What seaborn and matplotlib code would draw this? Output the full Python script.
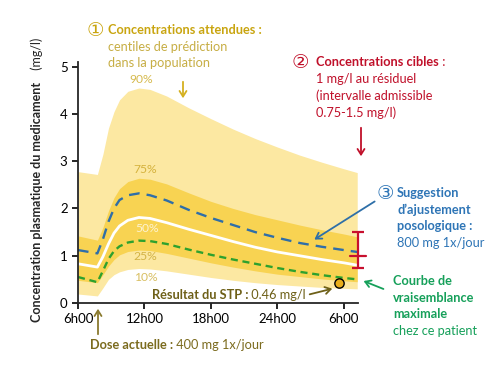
import matplotlib
matplotlib.use("Agg")
import matplotlib.pyplot as plt
from matplotlib.patches import FancyArrowPatch
import seaborn as sns

sns.set_style("ticks")
plt.rcParams['font.family'] = ['Lato', 'DejaVu Sans']

# Time grid (hours since midnight of day 1) and percentiles
hours = [6, 7.75, 8.25, 8.75, 9.25, 9.75, 10.5, 11.5, 12.5, 14, 16, 18, 20, 22, 24, 26, 28, 30, 31.2]
p90 = [2.78, 2.72, 3.15, 3.70, 4.05, 4.30, 4.48, 4.55, 4.52, 4.38, 4.13, 3.90, 3.68, 3.48, 3.30, 3.13, 2.98, 2.84, 2.76]
p75 = [1.42, 1.33, 1.60, 1.95, 2.23, 2.42, 2.57, 2.64, 2.62, 2.52, 2.33, 2.15, 2.00, 1.87, 1.76, 1.65, 1.55, 1.46, 1.40]
p50 = [0.83, 0.76, 0.98, 1.25, 1.48, 1.63, 1.75, 1.81, 1.79, 1.70, 1.56, 1.43, 1.30, 1.18, 1.08, 1.00, 0.92, 0.85, 0.80]
p25 = [0.48, 0.43, 0.60, 0.78, 0.92, 1.02, 1.09, 1.12, 1.11, 1.05, 0.95, 0.85, 0.76, 0.68, 0.61, 0.56, 0.51, 0.47, 0.45]
p10 = [0.19, 0.15, 0.32, 0.50, 0.60, 0.66, 0.71, 0.73, 0.72, 0.68, 0.61, 0.54, 0.48, 0.43, 0.39, 0.36, 0.33, 0.31, 0.30]
suggested = [1.12, 1.05, 1.35, 1.72, 2.00, 2.18, 2.28, 2.32, 2.28, 2.17, 1.97, 1.80, 1.65, 1.50, 1.38, 1.27, 1.19, 1.12, 1.08]
likelihood = [0.55, 0.44, 0.68, 0.93, 1.10, 1.20, 1.28, 1.32, 1.31, 1.25, 1.13, 1.02, 0.92, 0.83, 0.74, 0.66, 0.59, 0.53, 0.50]

# measured level (STP) and target range
stp_hour, stp_value = 29.6, 0.42
target_hour, target, target_low, target_high = 31.27, 1.0, 0.75, 1.5

pct_labels = ['90%', '75%', '50%', '25%', '10%']
pct_pos = [(11.7, 4.72), (12.1, 2.82), (12.2, 1.58), (12.1, 0.99), (12.1, 0.55)]
pct_colors = ['#D6BA4E', '#D5B23C', '#FDF3D0', '#D3B345', '#D8BF62']

xtick_pos = [6, 12, 18, 24, 30]
xtick_labels = ['6h00', '12h00', '18h00', '24h00', '6h00']

LIGHT = '#FCE8A2'
DEEP = '#F8D352'
GOLD = '#C9A510'
RED = '#C0102A'
BLUE = '#2E75B6'
GREEN = '#16A05A'
OLIVE = '#6E6018'
FS = 9.2

W, H = 500, 375


def P(x, y):
    # pixel position (from top-left) -> figure fraction
    return (x / W, 1 - y / H)


fig = plt.figure(figsize=(5, 3.75), dpi=100)
ax = fig.add_axes([78 / W, 1 - 303 / H, 280 / W, 241 / H])

ax.fill_between(hours, p10, p90, color=LIGHT, lw=0)
ax.fill_between(hours, p25, p75, color=DEEP, lw=0)
sns.lineplot(x=hours, y=p50, ax=ax, color='white', lw=2.0)
sns.lineplot(x=hours, y=suggested, ax=ax, color='#2F6EA8', lw=1.7,
             linestyle=(0, (4.5, 3)))
sns.lineplot(x=hours, y=likelihood, ax=ax, color='#2EA12E', lw=1.7,
             linestyle=(0, (3, 2)))
ax.scatter([stp_hour], [stp_value], s=45, color='#E9AE1B', edgecolor='black',
           lw=1, zorder=5)

ax.errorbar([target_hour], [target],
            yerr=[[target - target_low], [target_high - target]],
            fmt='none', ecolor='#C8102E', elinewidth=1.6, capsize=4.5,
            capthick=1.6, clip_on=False, zorder=6)
ax.plot([target_hour - 0.7, target_hour + 0.7], [target, target],
        color='#C8102E', lw=1.6, clip_on=False, zorder=6)

for lab, (hx, vy), c in zip(pct_labels, pct_pos, pct_colors):
    ax.text(hx, vy, lab, color=c, fontsize=8.7, ha='center', va='center')

ax.set_xlim(6, target_hour)
ax.set_ylim(0, 5.1)
ax.set_xticks(xtick_pos)
ax.set_xticklabels(xtick_labels)
ax.set_yticks([0, 1, 2, 3, 4, 5])
ax.tick_params(labelsize=9.5, length=4, width=1.2, colors='black')
sns.despine(ax=ax)
for s in ['left', 'bottom']:
    ax.spines[s].set_linewidth(1.3)
ax.set_xlabel('')
ax.set_ylabel('')

# y label: bold part + units
fig.text(*P(37, 322), 'Concentration plasmatique du medicament', rotation=90,
         rotation_mode='anchor', ha='left', va='center', fontsize=9,
         fontweight='bold')
fig.text(*P(37, 73), ' (mg/l)', rotation=90, rotation_mode='anchor',
         ha='left', va='center', fontsize=9)


def line(x, y, txt, color, bold=False):
    return fig.text(*P(x, y), txt, color=color, fontsize=FS, ha='left',
                    va='center', fontweight='bold' if bold else 'normal')


def after(prev, txt, color, bold=False):
    return ax.annotate(txt, xy=(1, 0), xycoords=prev, va='bottom', ha='left',
                       color=color, fontsize=FS, annotation_clip=False,
                       fontweight='bold' if bold else 'normal')


def arrow(x0, y0, x1, y1, color):
    fig.add_artist(FancyArrowPatch(
        P(x0, y0), P(x1, y1), transform=fig.transFigure,
        arrowstyle='->,head_length=4,head_width=2.5', color=color, lw=1.3))


def circled(x, y, ch, color):
    fig.text(*P(x, y), ch, color=color, fontsize=14, ha='center', va='center',
             family=['DejaVu Sans'])


# 1 - expected concentrations
circled(95, 30, '\u2460', GOLD)
line(108, 30, 'Concentrations attendues :', GOLD, bold=True)
line(108, 47, 'centiles de prédiction', '#C7AE45')
line(108, 63, 'dans la population', '#C7AE45')
arrow(183, 79, 183, 101, '#D4B020')

# 2 - target concentrations
circled(300, 62, '\u2461', RED)
t2 = line(316, 62, 'Concentrations cibles', RED, bold=True)
after(t2, ' :', RED)
line(316, 79, '1 mg/l au résiduel', RED)
line(316, 96, '(intervalle admissible', RED)
line(316, 113, '0.75-1.5 mg/l)', RED)
arrow(361, 125, 361, 159, RED)

# 3 - suggested dosing
circled(385, 193, '\u2462', BLUE)
line(397, 193, 'Suggestion', BLUE, bold=True)
line(397, 210, 'd\u2019ajustement', BLUE, bold=True)
line(397, 226, 'posologique :', BLUE, bold=True)
line(397, 243, '800 mg 1x/jour', BLUE)
arrow(377, 200, 312, 241, '#2E6FA8')

# maximum likelihood curve
line(393, 281, 'Courbe de', GREEN, bold=True)
line(393, 298, 'vraisemblance', GREEN, bold=True)
line(393, 314, 'maximale', GREEN, bold=True)
line(393, 331, 'chez ce patient', GREEN)
arrow(386, 290, 361, 280, GREEN)

# measured result
t4 = line(152, 295, 'Résultat du STP :', OLIVE, bold=True)
after(t4, ' 0.46 mg/l', OLIVE)
arrow(307, 295, 335, 288, OLIVE)

# current dose
t5 = line(90, 345, 'Dose actuelle :', '#7B6B1E', bold=True)
after(t5, ' 400 mg 1x/jour', '#7B6B1E')
arrow(98, 337, 98, 306, '#8A7A2E')

fig.savefig('out.png', dpi=100)
